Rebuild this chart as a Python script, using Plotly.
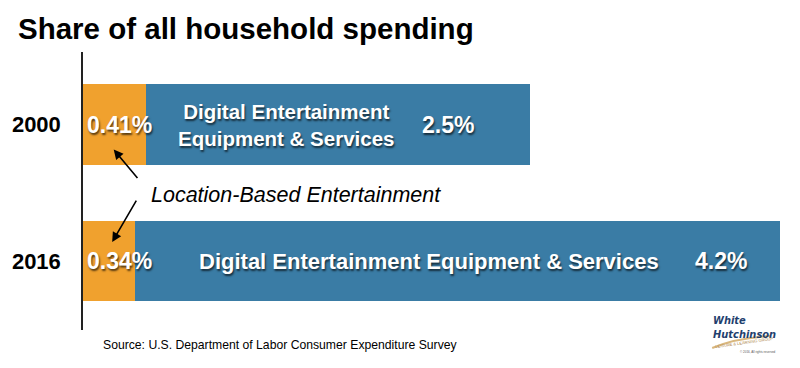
import plotly.graph_objects as go

years = ["2000", "2016"]
lbe_share = [0.41, 0.34]          # Location-Based Entertainment, % of household spending
digital_share = [2.5, 4.2]        # Digital Entertainment Equipment & Services
lbe_labels = ["0.41%", "0.34%"]
digital_labels = ["2.5%", "4.2%"]
digital_names = ["Digital Entertainment<br>Equipment & Services",
                 "Digital Entertainment Equipment & Services"]

ORANGE = "#F0A12E"
BLUE = "#3A7CA5"
FONT = "Liberation Sans, Arial, Helvetica, sans-serif"
SHADOW = "1px 2px 2px rgba(0,0,0,0.65)"

order = ["2016", "2000"]           # bottom to top
ypos = {yr: order.index(yr) for yr in years}

fig = go.Figure()
fig.add_trace(go.Bar(y=years, x=lbe_share, orientation="h", marker_color=ORANGE,
                     marker_line_width=0, width=0.59, hoverinfo="skip"))
fig.add_trace(go.Bar(y=years, x=digital_share, orientation="h", marker_color=BLUE,
                     marker_line_width=0, width=0.59, hoverinfo="skip"))

totals = [a + b for a, b in zip(lbe_share, digital_share)]
white_bold = dict(family=FONT, size=23, color="white", weight="bold", shadow=SHADOW)

# percentage labels on orange segments
for yr, v, lab in zip(years, lbe_share, lbe_labels):
    fig.add_annotation(x=0, y=ypos[yr], xshift=2, text=lab, showarrow=False,
                       font=white_bold, xanchor="left", yanchor="middle")

# digital names and values
name_pos = [0.366, 0.456]   # fraction along the blue segment
name_size = [20.5, 22]
val_pos = [0.787, 0.909]
for i, yr in enumerate(years):
    fig.add_annotation(x=lbe_share[i] + digital_share[i] * name_pos[i], y=ypos[yr],
                       text=digital_names[i], showarrow=False,
                       font=dict(family=FONT, size=name_size[i], color="white", weight="bold", shadow=SHADOW),
                       xanchor="center", yanchor="middle")
    fig.add_annotation(x=lbe_share[i] + digital_share[i] * val_pos[i], y=ypos[yr],
                       text=digital_labels[i], showarrow=False,
                       font=white_bold, xanchor="center", yanchor="middle")

# Location-Based Entertainment callout
fig.add_annotation(x=0.43, y=0.484, xref="x", yref="y", text="Location-Based Entertainment",
                   showarrow=False, xanchor="left", yanchor="middle",
                   font=dict(family=FONT, size=21.5, color="black", style="italic"))
fig.add_annotation(x=0.2, y=ypos["2000"], yshift=-25, text="", showarrow=True,
                   ax=25, ay=30, arrowhead=2, arrowsize=1.2, arrowwidth=1.6, arrowcolor="black")
fig.add_annotation(x=0.19, y=ypos["2016"], yshift=19, text="", showarrow=True,
                   ax=25, ay=-43, arrowhead=2, arrowsize=1.2, arrowwidth=1.6, arrowcolor="black")

# title, source, logo (positions in pixels, converted to paper below)
fig.add_annotation(x=14, y=368 - 28, xref="paper", yref="paper", text="<b>Share of all household spending</b>",
                   showarrow=False, xanchor="left", yanchor="middle",
                   font=dict(family=FONT, size=29.5, color="black"))
fig.add_annotation(text="Source: U.S. Department of Labor Consumer Expenditure Survey",
                   x=99, y=368 - 345, xref="paper", yref="paper", showarrow=False,
                   xanchor="left", yanchor="middle", font=dict(family=FONT, size=12.2, color="black"))
fig.add_annotation(text="<b><i>White<br>Hutchinson</i></b>", x=711, y=368 - 327,
                   xref="paper", yref="paper", showarrow=False, xanchor="left", yanchor="middle",
                   align="left", font=dict(family="Liberation Sans Narrow, DejaVu Sans Condensed, " + FONT,
                                           size=11, color="#1F3F6E"))
fig.add_annotation(text="LEISURE & LEARNING GROUP", x=744, y=368 - 342,
                   xref="paper", yref="paper", showarrow=False, xanchor="center", yanchor="middle",
                   textangle=-8, font=dict(family=FONT, size=4, color="#B0894F"))
fig.add_annotation(text="© 2016, All rights reserved", x=758, y=368 - 352,
                   xref="paper", yref="paper", showarrow=False, xanchor="center", yanchor="middle",
                   font=dict(family=FONT, size=3, color="#555"))

L, R, T, B = 81, 20, 52, 38
W, H = 800, 368
for a in fig.layout.annotations:
    if a.xref == "paper":
        a.x = (a.x - L) / (W - L - R)
        a.y = (a.y - B) / (H - T - B)

# tan swoosh of the logo (paper coords)
def px(xp, yp):
    return (xp - L) / (W - L - R), (H - yp - B) / (H - T - B)

x0, y0 = px(712, 348)
x1, y1 = px(770, 336)
xc, yc = px(735, 338)
fig.add_shape(type="path", xref="paper", yref="paper",
              path=f"M {x0},{y0} Q {xc},{yc} {x1},{y1}",
              line=dict(color="#D9B77E", width=2))

fig.update_layout(
    width=W, height=H, barmode="stack", showlegend=False,
    margin=dict(l=L, r=R, t=T, b=B),
    plot_bgcolor="white", paper_bgcolor="white",
    xaxis=dict(range=[0, max(totals)], visible=False, fixedrange=True),
    yaxis=dict(categoryorder="array", categoryarray=order,
               range=[-0.505, 1.531], showline=True, linecolor="#222", linewidth=1.5,
               showgrid=False, zeroline=False, ticks="", ticklabelstandoff=16,
               tickfont=dict(family=FONT, size=22, color="black", weight="bold")),
)
fig.write_html("out.html", config={"displayModeBar": False},
               post_script="document.body.style.margin='0';document.body.style.overflow='hidden';")
